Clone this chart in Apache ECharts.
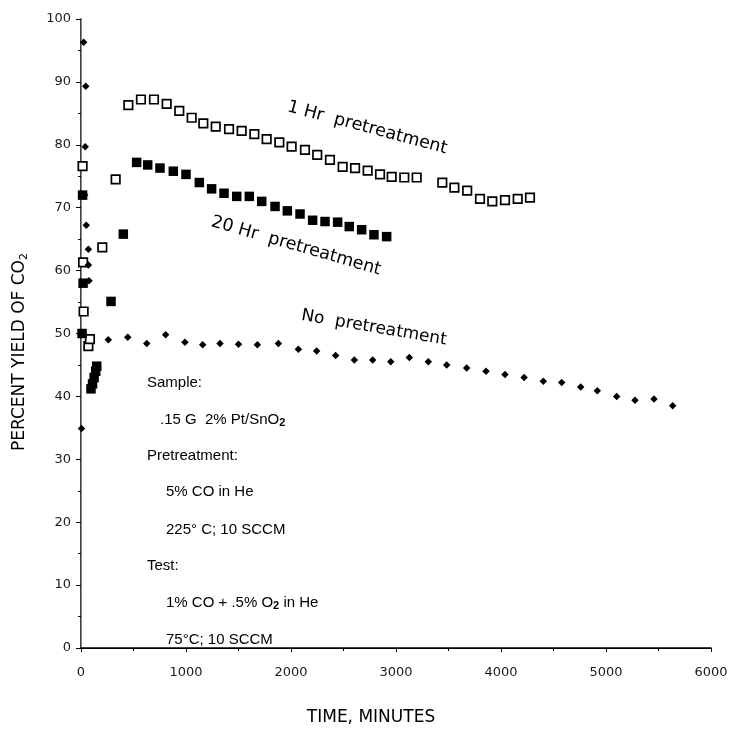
<!DOCTYPE html>
<html><head><meta charset="utf-8">
<script src="https://cdn.jsdelivr.net/npm/echarts@6/dist/echarts.min.js"></script>
<style>html,body{margin:0;padding:0;background:#fff}#c{width:731px;height:732px}</style>
</head><body><div id="c"></div>
<script>
// 1 Hr pretreatment (open squares)
const hr1X = [15, 20, 25, 70, 85, 203, 330, 451, 571, 695, 816, 936, 1054, 1165, 1283, 1410, 1530, 1651, 1768, 1889, 2006, 2133, 2250, 2371, 2492, 2610, 2730, 2848, 2959, 3079, 3197, 3441, 3556, 3678, 3800, 3917, 4038, 4159, 4276];
const hr1Y = [76.6, 61.3, 53.5, 48.0, 49.1, 63.7, 74.5, 86.3, 87.2, 87.2, 86.5, 85.4, 84.3, 83.4, 82.9, 82.5, 82.2, 81.7, 80.9, 80.4, 79.7, 79.2, 78.4, 77.6, 76.5, 76.3, 75.9, 75.3, 74.9, 74.8, 74.8, 74.0, 73.2, 72.7, 71.4, 71.0, 71.2, 71.4, 71.6];
// 20 Hr pretreatment (filled squares)
const hr20X = [10, 15, 20, 95, 110, 125, 140, 150, 286, 403, 530, 635, 752, 879, 1000, 1127, 1244, 1362, 1483, 1603, 1721, 1848, 1965, 2086, 2206, 2324, 2444, 2555, 2673, 2790, 2911];
const hr20Y = [50.0, 72.0, 58.0, 41.2, 42.0, 43.0, 44.0, 44.8, 55.1, 65.8, 77.2, 76.8, 76.3, 75.8, 75.3, 74.0, 73.0, 72.3, 71.8, 71.8, 71.0, 70.2, 69.5, 69.0, 68.0, 67.8, 67.7, 67.0, 66.5, 65.7, 65.4];
// No pretreatment (diamonds)
const noX = [25, 45, 40, 35, 50, 70, 70, 76, 20, 5, 260, 445, 626, 806, 990, 1159, 1324, 1500, 1680, 1880, 2070, 2244, 2425, 2603, 2778, 2950, 3127, 3308, 3483, 3673, 3857, 4038, 4220, 4403, 4578, 4759, 4917, 5102, 5276, 5457, 5635];
const noY = [96.3, 89.3, 79.7, 72.0, 67.2, 63.4, 60.9, 58.4, 50.0, 34.9, 49.0, 49.4, 48.4, 49.8, 48.6, 48.2, 48.4, 48.3, 48.2, 48.4, 47.5, 47.2, 46.5, 45.8, 45.8, 45.5, 46.2, 45.5, 45.0, 44.5, 44.0, 43.5, 43.0, 42.4, 42.2, 41.5, 40.9, 40.0, 39.4, 39.6, 38.5];

const xTicks = ['0', '1000', '2000', '3000', '4000', '5000', '6000'];
const yTicks = ['0', '10', '20', '30', '40', '50', '60', '70', '80', '90', '100'];

const pairs = (xs, ys) => xs.map((x, i) => [x, ys[i]]);
const FONT = 'DejaVu Sans';
const FONT2 = 'Liberation Sans';
const ink = '#000';

const chart = echarts.init(document.getElementById('c'), null, {renderer: 'canvas'});
chart.setOption({
  animation: false,
  backgroundColor: '#fff',
  grid: {left: 81, right: 20, top: 19, bottom: 84},
  xAxis: [{
    type: 'value', min: 0, max: 6000, interval: 1000, position: 'bottom',
    axisLine: {show: true, lineStyle: {color: ink, width: 1.5}},
    splitLine: {show: false},
    axisTick: {show: true, inside: false, length: 4, lineStyle: {color: ink}},
    minorTick: {show: true, splitNumber: 2, length: 3, lineStyle: {color: ink}},
    axisLabel: {color: '#1a1a1a', fontFamily: FONT, fontSize: 13, margin: 18,
      formatter: v => xTicks[Math.round(v / 1000)]}
  }, {
    type: 'value', min: 0, max: 6000, position: 'top',
    axisLine: {show: true, lineStyle: {color: ink, width: 1.2}},
    splitLine: {show: false}, axisTick: {show: false}, axisLabel: {show: false}
  }],
  yAxis: [{
    type: 'value', min: 0, max: 100, interval: 10, position: 'left',
    axisLine: {show: true, lineStyle: {color: ink, width: 1.5}},
    splitLine: {show: false},
    axisTick: {show: true, inside: false, length: 5, lineStyle: {color: ink}},
    minorTick: {show: true, splitNumber: 2, length: 3, lineStyle: {color: ink}},
    axisLabel: {color: '#1a1a1a', fontFamily: FONT, fontSize: 13, margin: 10,
      formatter: v => yTicks[Math.round(v / 10)]}
  }, {
    type: 'value', min: 0, max: 100, position: 'right',
    axisLine: {show: true, lineStyle: {color: '#888', width: 1}},
    axisTick: {show: false}, axisLabel: {show: false}, splitLine: {show: false}
  }],
  series: [{
    name: '1 Hr pretreatment', type: 'scatter', data: pairs(hr1X, hr1Y),
    symbol: 'rect', symbolSize: 8.5,
    itemStyle: {color: '#fff', borderColor: ink, borderWidth: 1.7, opacity: 1}
  }, {
    name: '20 Hr pretreatment', type: 'scatter', data: pairs(hr20X, hr20Y),
    symbol: 'rect', symbolSize: 9.5,
    itemStyle: {color: ink, opacity: 1}
  }, {
    name: 'No pretreatment', type: 'scatter', data: pairs(noX, noY),
    symbol: 'diamond', symbolSize: 7.5,
    itemStyle: {color: ink, opacity: 1}
  }],
  graphic: [
    {type: 'text', x: 371, y: 718, style: {text: 'TIME, MINUTES', fill: ink, font: '17px "DejaVu Sans"', textAlign: 'center', textVerticalAlign: 'middle'}},
    {type: 'text', x: 20, y: 352, rotation: Math.PI / 2,
      style: {text: 'PERCENT YIELD OF CO{s|2}', fill: ink, font: '17px "DejaVu Sans"', textAlign: 'center', textVerticalAlign: 'middle',
        rich: {s: {fontSize: 11, fontFamily: FONT, fill: ink, padding: [8, 0, 0, 0]}}}},
    {type: 'text', x: 290, y: 98, rotation: -0.26,
      style: {text: '1 Hr  pretreatment', fill: ink, font: '17.5px "DejaVu Sans"'}},
    {type: 'text', x: 214, y: 213, rotation: -0.28,
      style: {text: '20 Hr  pretreatment', fill: ink, font: '17.5px "DejaVu Sans"'}},
    {type: 'text', x: 303, y: 307, rotation: -0.17,
      style: {text: 'No  pretreatment', fill: ink, font: '17px "DejaVu Sans"'}},
    {type: 'text', x: 147, y: 375, style: {text: 'Sample:', fill: ink, font: '15px "Liberation Sans"'}},
    {type: 'text', x: 160, y: 412, style: {text: '.15 G  2% Pt/SnO{b|2}', fill: ink, font: '15px "Liberation Sans"',
      rich: {b: {fontSize: 11, fontWeight: 'bold', fontFamily: FONT2, fill: ink, padding: [5, 0, 0, 0]}}}},
    {type: 'text', x: 147, y: 448, style: {text: 'Pretreatment:', fill: ink, font: '15px "Liberation Sans"'}},
    {type: 'text', x: 166, y: 484, style: {text: '5% CO in He', fill: ink, font: '15px "Liberation Sans"'}},
    {type: 'text', x: 166, y: 522, style: {text: '225° C; 10 SCCM', fill: ink, font: '15px "Liberation Sans"'}},
    {type: 'text', x: 147, y: 558, style: {text: 'Test:', fill: ink, font: '15px "Liberation Sans"'}},
    {type: 'text', x: 166, y: 595, style: {text: '1% CO + .5% O{b|2} in He', fill: ink, font: '15px "Liberation Sans"',
      rich: {b: {fontSize: 11, fontWeight: 'bold', fontFamily: FONT2, fill: ink, padding: [5, 0, 0, 0]}}}},
    {type: 'text', x: 166, y: 632, style: {text: '75°C; 10 SCCM', fill: ink, font: '15px "Liberation Sans"'}}
  ]
});
</script></body></html>
